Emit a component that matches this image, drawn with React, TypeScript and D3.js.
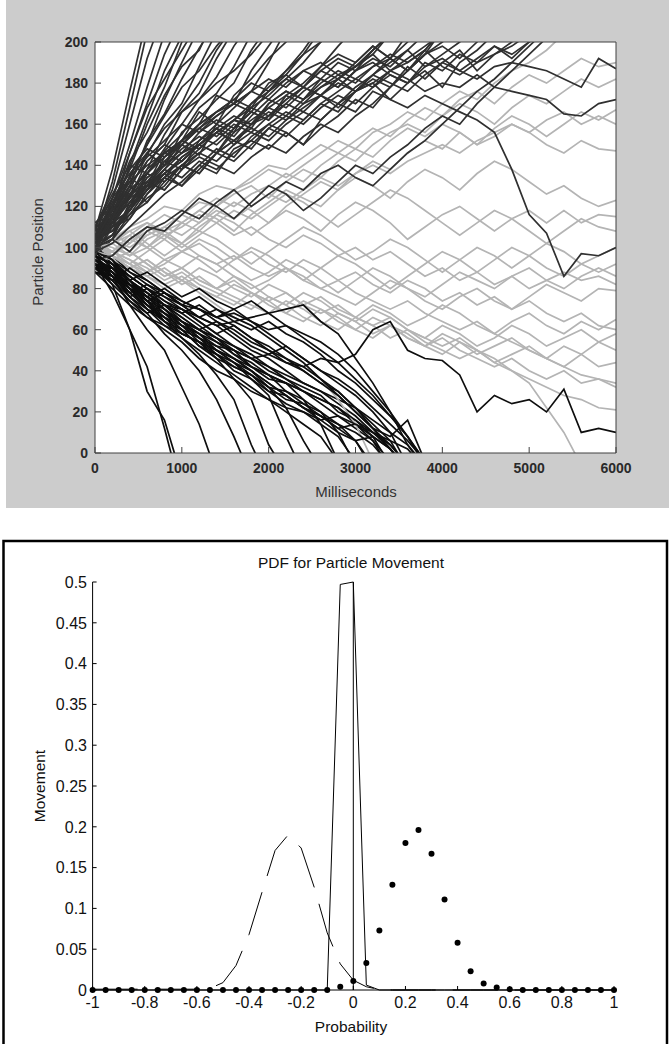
import React from "react";
import * as d3 from "d3";

// ---- top panel: particle random walks, one value every STEP_MS ----
const STEP_MS = 200;

// positive drift (absorbed at the upper bound, dark grey)
const upPaths: number[][] = [
  [108, 138, 176, 212],
  [104, 132, 168, 205],
  [110, 128, 160, 192, 215],
  [102, 124, 150, 178, 204],
  [106, 118, 146, 170, 194, 212],
  [98, 115, 140, 163, 186, 203],
  [112, 120, 138, 160, 178, 200, 210],
  [100, 112, 135, 150, 172, 190, 207],
  [104, 116, 130, 152, 165, 182, 197, 210],
  [96, 110, 128, 145, 160, 170, 188, 205],
  [108, 114, 126, 138, 155, 168, 180, 196, 208],
  [102, 116, 124, 142, 150, 166, 175, 192, 206],
  [100, 106, 120, 136, 148, 160, 172, 183, 198, 210],
  [106, 112, 118, 130, 147, 155, 168, 175, 188, 204],
  [98, 104, 122, 134, 140, 156, 163, 172, 180, 196, 208],
  [104, 110, 116, 128, 144, 150, 160, 174, 170, 186, 198, 210],
  [110, 114, 125, 138, 146, 152, 166, 160, 174, 182, 192, 200, 212],
  [100, 106, 120, 130, 138, 150, 145, 160, 168, 176, 190, 206],
  [102, 110, 118, 132, 142, 138, 152, 160, 156, 170, 178, 186, 196, 208],
  [96, 104, 114, 126, 136, 144, 150, 146, 158, 166, 162, 174, 180, 188, 198, 207],
  [104, 108, 116, 122, 134, 140, 148, 156, 162, 158, 170, 176, 172, 182, 190, 186, 196, 204],
  [106, 112, 126, 130, 142, 150, 158, 166, 172, 168, 180, 184, 178, 188, 194, 190, 198, 192, 200, 210],
  [100, 106, 120, 134, 140, 152, 160, 166, 170, 176, 182, 178, 186, 190, 184, 188, 194, 186, 190, 196, 188, 184, 190, 194, 198, 204],
  [98, 102, 110, 118, 126, 132, 140, 136, 148, 152, 160, 156, 150, 162, 170, 166, 176, 172, 180, 186, 178, 190, 196, 204],
  [100, 104, 98, 108, 112, 118, 114, 122, 128, 120, 126, 132, 128, 136, 140, 134, 130, 138, 146, 152, 160, 168, 176, 182, 190, 198, 206],
  [94, 96, 104, 110, 108, 116, 124, 120, 114, 122, 130, 126, 118, 124, 132, 140, 136, 144, 150, 158, 164, 160, 170, 178, 186, 194, 202],
  [104, 108, 120, 128, 138, 146, 150, 158, 164, 160, 170, 176, 172, 180, 186, 182, 188, 194, 190, 196, 206],
  [108, 112, 118, 130, 136, 142, 150, 146, 156, 162, 168, 164, 172, 178, 184, 180, 188, 192, 186, 194, 198, 192, 200, 208],
  [100, 104, 116, 124, 130, 140, 136, 146, 152, 158, 154, 162, 168, 174, 170, 178, 184, 180, 176, 184, 190, 186, 192, 198, 194, 200, 206],
  [106, 110, 114, 126, 134, 130, 140, 148, 144, 154, 160, 166, 162, 170, 176, 182, 178, 186, 192, 198, 204],
  [102, 106, 118, 132, 128, 138, 146, 152, 160, 156, 164, 172, 178, 174, 182, 188, 196, 204],
  [110, 114, 128, 136, 146, 152, 160, 166, 172, 180, 176, 186, 194, 200, 210],
  [106, 118, 132, 146, 158, 166, 172, 180, 186, 194, 204],
  [112, 116, 134, 150, 164, 178, 186, 198, 208],
  [110, 124, 146, 168, 182, 196, 210],
  [104, 120, 142, 156, 174, 188, 196, 214],
  [102, 118, 128, 136, 132, 140, 146, 142, 150, 156, 152, 160, 166, 162, 170, 176, 184, 192, 204],
  [96, 112, 124, 130, 138, 134, 142, 138, 146, 152, 148, 156, 150, 158, 164, 172, 168, 178, 186, 194, 206],
  [106, 120, 132, 140, 146, 142, 150, 156, 152, 160, 164, 170, 166, 174, 180, 176, 184, 190, 196, 188, 194, 200, 208],
  [100, 116, 126, 132, 128, 138, 144, 140, 136, 144, 150, 146, 154, 160, 156, 164, 170, 178, 186, 196, 206],
  [104, 122, 138, 148, 144, 152, 158, 154, 162, 168, 164, 172, 178, 174, 182, 188, 194, 204],
  [110, 126, 140, 136, 144, 152, 148, 156, 162, 170, 176, 184, 194, 206],
  [98, 114, 130, 142, 150, 146, 156, 162, 158, 168, 174, 182, 190, 200, 208],
  [102, 120, 134, 128, 136, 142, 150, 158, 154, 164, 172, 168, 176, 182, 178, 186, 192, 188, 196, 204],
  [108, 124, 136, 146, 140, 148, 154, 150, 158, 166, 162, 170, 178, 186, 182, 190, 198, 192, 186, 194, 200, 206],
  [100, 114, 122, 130, 136, 130, 138, 146, 142, 150, 158, 154, 162, 170, 166, 176, 182, 178, 188, 182, 190, 196, 186, 194, 200, 208],
  [104, 118, 130, 122, 132, 140, 136, 146, 152, 148, 158, 164, 160, 168, 174, 170, 178, 184, 180, 190, 186, 194, 190, 198, 192, 200, 206],
  [106, 122, 134, 144, 152, 160, 156, 164, 170, 166, 176, 182, 178, 186, 192, 188, 196, 204],
  // still moving at 6000 ms
  [102, 110, 124, 136, 146, 150, 158, 164, 170, 176, 172, 180, 186, 182, 178, 186, 190, 184, 180, 188, 192, 186, 182, 188, 190, 188, 186, 182, 178, 192, 187],
  [106, 108, 118, 128, 134, 144, 150, 156, 162, 160, 168, 174, 170, 178, 182, 176, 180, 186, 182, 176, 180, 178, 184, 178, 176, 174, 172, 165, 164, 170, 172],
  [100, 112, 122, 130, 140, 146, 152, 158, 150, 160, 166, 162, 170, 174, 168, 176, 180, 172, 168, 174, 170, 166, 162, 156, 138, 116, 107, 86, 97, 96, 100],
];

// negative drift (absorbed at zero, black)
const downPaths: number[][] = [
  [92, 78, 60, 42, 12, -20],
  [90, 82, 60, 30, 16, -12],
  [96, 86, 72, 60, 50, 32, 14, -10],
  [94, 88, 76, 68, 58, 50, 40, 26, 8, -12],
  [98, 90, 80, 70, 64, 56, 48, 38, 26, 4, -14],
  [88, 86, 78, 72, 64, 60, 52, 46, 36, 26, 4, -10],
  [100, 92, 84, 74, 70, 62, 58, 50, 44, 36, 28, 8, -10],
  [94, 88, 80, 76, 68, 64, 56, 52, 46, 40, 32, 22, 6, -8],
  [98, 94, 82, 78, 72, 66, 60, 56, 48, 44, 38, 30, 26, 14, -4],
  [92, 90, 84, 78, 70, 64, 60, 54, 50, 42, 36, 34, 26, 20, 10, -6],
  [90, 86, 76, 70, 66, 58, 54, 46, 42, 38, 30, 28, 22, 18, 14, 6, -8],
  [96, 92, 86, 80, 74, 70, 64, 58, 52, 46, 40, 36, 30, 26, 22, 14, 6, -8],
  [100, 94, 88, 82, 78, 72, 66, 62, 56, 50, 46, 40, 34, 30, 24, 18, 10, 2, -10],
  [94, 90, 82, 76, 72, 64, 60, 56, 50, 46, 42, 36, 32, 28, 20, 16, 8, -6],
  [98, 96, 88, 84, 78, 74, 70, 64, 60, 54, 50, 44, 40, 34, 30, 22, 12, 8, 16, -4],
  [88, 84, 74, 66, 60, 54, 46, 40, 36, 30, 26, 22, 20, 16, 18, 12, 6, -4],
  [96, 92, 80, 74, 68, 60, 56, 48, 44, 38, 32, 26, 24, 18, 12, 14, 8, 2, -8],
  [92, 88, 82, 74, 66, 62, 54, 50, 44, 40, 34, 28, 22, 16, 10, 6, -6],
  [100, 94, 86, 80, 72, 68, 62, 56, 52, 48, 42, 38, 34, 30, 26, 22, 16, 10, 4, -6],
  [96, 92, 86, 80, 76, 72, 70, 66, 68, 64, 60, 62, 58, 54, 48, 40, 30, 20, 8, -6],
  [94, 90, 84, 78, 72, 70, 66, 62, 64, 66, 68, 70, 72, 64, 58, 46, 34, 20, 4, -8],
  [90, 90, 82, 72, 66, 60, 52, 48, 42, 38, 32, 30, 24, 20, 14, 10, 4, -6],
  [92, 86, 80, 74, 64, 58, 54, 48, 40, 36, 30, 24, 20, 14, 8, -4],
  [98, 94, 84, 76, 70, 62, 56, 50, 46, 40, 34, 28, 22, 18, 12, 6, 8, 2, -8],
  [90, 88, 78, 70, 62, 56, 50, 44, 38, 32, 26, 20, 14, 8, -4],
  [96, 92, 84, 76, 70, 64, 58, 54, 48, 42, 38, 34, 30, 24, 18, 14, 10, 6, 2, -8],
  [94, 86, 80, 74, 78, 72, 66, 70, 64, 60, 64, 58, 54, 48, 40, 34, 26, 18, 8, -4],
  [90, 84, 76, 80, 74, 68, 72, 66, 62, 56, 52, 46, 40, 34, 28, 20, 12, 2, -8],
  [96, 88, 82, 76, 80, 74, 70, 66, 70, 64, 58, 52, 46, 40, 34, 28, 20, 10, -6],
  [92, 82, 74, 68, 72, 66, 60, 64, 58, 52, 48, 52, 46, 40, 36, 30, 22, 14, 6, -4],
  [98, 90, 84, 88, 82, 76, 80, 74, 70, 74, 68, 62, 56, 50, 44, 36, 28, 18, 8, -4],
  [88, 80, 72, 66, 62, 58, 54, 50, 46, 42, 38, 34, 30, 26, 22, 16, 10, 4, -6],
  [94, 86, 78, 82, 76, 70, 64, 58, 62, 56, 50, 46, 42, 36, 30, 22, 14, 6, -8],
  [92, 84, 90, 84, 78, 72, 76, 70, 66, 62, 56, 50, 44, 36, 28, 20, 12, 4, -6],
  // still moving at 6000 ms
  [94, 88, 80, 72, 68, 62, 58, 52, 50, 46, 48, 44, 42, 46, 44, 48, 60, 64, 50, 46, 45, 38, 20, 28, 24, 26, 20, 31, 10, 12, 10],
];

// no drift (light grey)
const flatPaths: number[][] = [
  [102, 104, 110, 114, 120, 118, 126, 130, 128, 134, 140, 138, 144, 150, 146, 152, 158, 154, 162, 168, 164, 172, 176, 170, 178, 184, 180, 186, 192, 188, 190],
  [100, 98, 106, 112, 108, 116, 122, 120, 128, 132, 138, 134, 140, 146, 152, 148, 156, 160, 166, 162, 170, 176, 172, 180, 186, 190, 196, 204],
  [104, 106, 102, 110, 116, 112, 118, 124, 120, 126, 130, 136, 132, 140, 146, 142, 150, 156, 160, 156, 164, 170, 166, 160, 168, 174, 170, 176, 182, 178, 182],
  [98, 96, 102, 108, 104, 112, 108, 116, 122, 118, 112, 120, 126, 132, 128, 136, 142, 138, 146, 152, 148, 156, 150, 158, 164, 160, 154, 160, 166, 162, 167],
  [102, 104, 98, 106, 110, 116, 112, 120, 126, 130, 124, 132, 138, 134, 142, 148, 144, 152, 158, 154, 160, 156, 150, 154, 160, 156, 150, 146, 152, 148, 147],
  [96, 96, 104, 100, 108, 112, 118, 114, 108, 116, 122, 128, 124, 120, 128, 134, 130, 124, 132, 138, 134, 128, 136, 142, 138, 132, 126, 130, 124, 120, 123],
  [100, 102, 96, 104, 108, 102, 110, 116, 112, 106, 112, 118, 114, 108, 116, 122, 118, 112, 104, 110, 116, 120, 114, 108, 114, 118, 112, 118, 112, 116, 115],
  [104, 98, 104, 110, 106, 100, 106, 112, 118, 114, 120, 126, 122, 116, 110, 116, 122, 128, 124, 118, 112, 106, 112, 118, 114, 108, 102, 108, 114, 110, 108],
  [98, 104, 108, 102, 96, 102, 108, 104, 98, 92, 98, 104, 110, 106, 100, 94, 98, 104, 100, 94, 88, 94, 100, 96, 90, 96, 102, 98, 92, 96, 100],
  [102, 96, 92, 98, 104, 98, 94, 88, 94, 100, 96, 90, 84, 90, 96, 92, 86, 80, 86, 92, 98, 94, 88, 94, 100, 96, 90, 86, 92, 88, 92],
  [96, 98, 94, 88, 92, 98, 102, 96, 90, 84, 88, 94, 90, 84, 78, 84, 90, 86, 80, 76, 82, 88, 84, 80, 86, 90, 84, 80, 86, 90, 86],
  [100, 94, 98, 92, 86, 90, 96, 92, 86, 80, 84, 90, 86, 80, 76, 72, 78, 84, 80, 74, 70, 76, 80, 74, 70, 76, 82, 78, 74, 80, 79],
  [98, 96, 90, 94, 88, 84, 90, 86, 80, 76, 82, 78, 72, 76, 70, 66, 72, 68, 62, 66, 72, 68, 62, 58, 64, 68, 62, 58, 64, 60, 65],
  [102, 98, 92, 88, 94, 90, 84, 80, 86, 82, 76, 72, 78, 74, 68, 64, 70, 66, 60, 56, 62, 58, 52, 56, 62, 58, 52, 56, 60, 54, 58],
  [96, 94, 90, 86, 90, 84, 80, 76, 82, 78, 72, 68, 74, 70, 64, 60, 66, 62, 56, 52, 58, 54, 48, 52, 56, 50, 46, 52, 48, 54, 50],
  [100, 96, 92, 86, 82, 86, 80, 76, 72, 78, 74, 68, 64, 70, 66, 60, 56, 62, 58, 52, 48, 54, 50, 44, 48, 52, 46, 42, 48, 42, 44],
  [98, 98, 94, 90, 84, 88, 82, 78, 74, 70, 76, 72, 66, 62, 68, 64, 58, 62, 56, 52, 56, 50, 46, 42, 46, 40, 36, 40, 34, 36, 32],
  [102, 96, 90, 94, 88, 82, 86, 80, 76, 72, 68, 74, 70, 64, 60, 66, 62, 56, 60, 54, 50, 46, 50, 44, 40, 36, 32, 28, 26, 22, 21],
  [100, 94, 98, 92, 86, 90, 84, 80, 84, 78, 74, 78, 72, 68, 72, 66, 62, 66, 60, 56, 52, 56, 50, 46, 40, 34, 22, 10, -6],
  [98, 96, 90, 86, 80, 84, 78, 72, 66, 62, 56, 50, 44, 36, 26, 14, -4],
  [100, 102, 106, 100, 94, 98, 104, 100, 94, 98, 92, 88, 94, 90, 84, 88, 82, 78, 84, 80, 74, 78, 72, 76, 70, 74, 68, 64, 68, 62, 60],
  [98, 102, 108, 112, 106, 110, 116, 112, 106, 110, 104, 100, 106, 102, 96, 100, 94, 98, 92, 86, 90, 84, 88, 82, 86, 80, 84, 88, 84, 86, 82],
  [102, 100, 96, 100, 106, 102, 96, 92, 96, 90, 86, 90, 84, 80, 84, 78, 74, 70, 74, 68, 64, 60, 64, 58, 54, 50, 46, 42, 38, 36, 34],
  [100, 104, 100, 106, 110, 106, 112, 118, 114, 120, 126, 122, 128, 134, 130, 136, 140, 136, 142, 146, 150, 146, 152, 156, 160, 156, 162, 166, 160, 164, 160],
];

const timeTicks = [0, 1000, 2000, 3000, 4000, 5000, 6000];
const positionTicks = [0, 20, 40, 60, 80, 100, 120, 140, 160, 180, 200];

// ---- bottom panel: PDF for particle movement ----
const probGrid = [
  -1, -0.95, -0.9, -0.85, -0.8, -0.75, -0.7, -0.65, -0.6, -0.55, -0.5, -0.45, -0.4, -0.35, -0.3, -0.25, -0.2,
  -0.15, -0.1, -0.05, 0, 0.05, 0.1, 0.15, 0.2, 0.25, 0.3, 0.35, 0.4, 0.45, 0.5, 0.55, 0.6, 0.65, 0.7, 0.75,
  0.8, 0.85, 0.9, 0.95, 1,
];
const pdfNegative = [
  0.001, 0.001, 0.001, 0.001, 0.001, 0.001, 0.001, 0.001, 0.001, 0.002, 0.009, 0.03, 0.068, 0.12, 0.171, 0.19,
  0.174, 0.126, 0.07, 0.032, 0.012, 0.004, 0.0005, 0, 0, 0, 0, 0, 0, 0, 0, 0, 0, 0, 0, 0, 0, 0, 0, 0, 0,
];
const pdfZero = [
  0, 0, 0, 0, 0, 0, 0, 0, 0, 0, 0, 0, 0, 0, 0, 0, 0, 0, 0, 0.497, 0.5, 0.006, 0, 0, 0, 0, 0, 0, 0, 0, 0, 0, 0, 0,
  0, 0, 0, 0, 0, 0, 0,
];
const pdfPositive = [
  0, 0, 0, 0, 0, 0, 0, 0, 0, 0, 0, 0, 0, 0, 0, 0, 0, 0, 0, 0.004, 0.011, 0.033, 0.073, 0.129, 0.18, 0.196, 0.167,
  0.111, 0.058, 0.023, 0.008, 0.003, 0.001, 0, 0, 0, 0, 0, 0, 0, 0,
];
const centerLineX = [0, 0];
const centerLineY = [0, 0.5];
const probTicks = [-1, -0.8, -0.6, -0.4, -0.2, 0, 0.2, 0.4, 0.6, 0.8, 1];
const movementTicks = [0, 0.05, 0.1, 0.15, 0.2, 0.25, 0.3, 0.35, 0.4, 0.45, 0.5];

const FONT = "Arial, 'Liberation Sans', sans-serif";

function fmt(v: number) {
  return String(Math.round(v * 100) / 100);
}

export default function App() {
  const xT = d3.scaleLinear().domain([0, 6000]).range([95, 616]);
  const yT = d3.scaleLinear().domain([0, 200]).range([453, 42]);
  const walk = d3
    .line<number>()
    .x((_, i) => xT(i * STEP_MS))
    .y((v) => yT(v));

  const groups: [number[][], string][] = [
    [upPaths, "#303030"],
    [flatPaths, "#b4b4b4"],
    [downPaths, "#0e0e0e"],
  ];
  const nMax = d3.max(groups, (g) => g[0].length) as number;
  const walks: { d: string; color: string; key: string }[] = [];
  for (let i = 0; i < nMax; i++) {
    groups.forEach(([paths, color], gi) => {
      if (paths[i]) walks.push({ d: walk(paths[i]) as string, color, key: `${gi}-${i}` });
    });
  }

  const xB = d3.scaleLinear().domain([-1, 1]).range([92.6, 614]);
  const yB = d3.scaleLinear().domain([0, 0.5]).range([990, 582]);
  const pdfLine = (ys: number[], xs: number[] = probGrid) =>
    d3
      .line<number>()
      .x((_, i) => xB(xs[i]))
      .y((v) => yB(v))(ys) as string;

  return (
    <div style={{ position: "absolute", left: 0, top: 0 }}>
      <svg width={669} height={1044} style={{ display: "block", background: "#fff" }}>
        <defs>
          <clipPath id="walkClip">
            <rect x={95} y={42} width={521} height={411} />
          </clipPath>
        </defs>

        {/* top panel */}
        <rect x={6} y={0} width={663} height={508} fill="#cccccc" />
        <rect x={95} y={42} width={521} height={411} fill="#fff" />
        <g clipPath="url(#walkClip)" fill="none" strokeWidth={1.7} strokeLinejoin="miter">
          {walks.map((w) => (
            <path key={w.key} d={w.d} stroke={w.color} />
          ))}
        </g>
        <g stroke="#404040" strokeWidth={1} fill="none">
          <line x1={95} y1={42} x2={616} y2={42} />
          <line x1={616} y1={42} x2={616} y2={453} />
          <line x1={95} y1={453} x2={616} y2={453} />
          <line x1={95} y1={42} x2={95} y2={453} />
          {timeTicks.map((t) => (
            <line key={t} x1={xT(t)} x2={xT(t)} y1={453} y2={447} />
          ))}
          {positionTicks.map((v) => (
            <line key={v} x1={95} x2={101} y1={yT(v)} y2={yT(v)} />
          ))}
        </g>
        <g fontFamily={FONT} fontSize={14} fontWeight="bold" fill="#2a2a2a">
          {timeTicks.map((t) => (
            <text key={t} x={xT(t)} y={473} textAnchor="middle">
              {t}
            </text>
          ))}
          {positionTicks.map((v) => (
            <text key={v} x={88} y={yT(v)} dy="0.36em" textAnchor="end">
              {v}
            </text>
          ))}
        </g>
        <text x={356} y={497} textAnchor="middle" fontFamily={FONT} fontSize={15} fill="#333">
          Milliseconds
        </text>
        <text
          transform="translate(43,252) rotate(-90)"
          textAnchor="middle"
          fontFamily={FONT}
          fontSize={15}
          fill="#333"
        >
          Particle Position
        </text>

        {/* bottom panel */}
        <rect x={3.5} y={541} width={663.5} height={520} fill="#fff" stroke="#000" strokeWidth={2.5} />
        <text x={351} y={568} textAnchor="middle" fontFamily={FONT} fontSize={15.5} fill="#111">
          PDF for Particle Movement
        </text>
        <g stroke="#000" strokeWidth={1} fill="none">
          <line x1={xB(-1)} x2={xB(1)} y1={yB(0)} y2={yB(0)} />
          <line x1={xB(-1)} x2={xB(-1)} y1={yB(0)} y2={yB(0.5)} />
          {probTicks.map((p) => (
            <line key={p} x1={xB(p)} x2={xB(p)} y1={yB(0)} y2={yB(0) - 4} />
          ))}
          {movementTicks.map((m) => (
            <line key={m} x1={xB(-1)} x2={xB(-1) + 4} y1={yB(m)} y2={yB(m)} />
          ))}
        </g>
        <g fontFamily={FONT} fontSize={16} fill="#111">
          {probTicks.map((p) => (
            <text key={p} x={xB(p)} y={1008} textAnchor="middle">
              {fmt(p)}
            </text>
          ))}
          {movementTicks.map((m) => (
            <text key={m} x={87} y={yB(m)} dy="0.36em" textAnchor="end">
              {fmt(m)}
            </text>
          ))}
        </g>
        <text x={351} y={1032} textAnchor="middle" fontFamily={FONT} fontSize={15.5} fill="#111">
          Probability
        </text>
        <text
          transform="translate(45,786) rotate(-90)"
          textAnchor="middle"
          fontFamily={FONT}
          fontSize={15.5}
          fill="#111"
        >
          Movement
        </text>

        <g fill="none" stroke="#000" strokeWidth={1}>
          <path d={pdfLine(pdfNegative)} strokeDasharray="45 17" />
          <path d={pdfLine(pdfZero)} />
          <path d={pdfLine(centerLineY, centerLineX)} />
        </g>
        <g fill="#000">
          {pdfPositive.map((v, i) => (
            <circle key={i} cx={xB(probGrid[i])} cy={yB(v)} r={3} />
          ))}
        </g>
      </svg>
    </div>
  );
}
